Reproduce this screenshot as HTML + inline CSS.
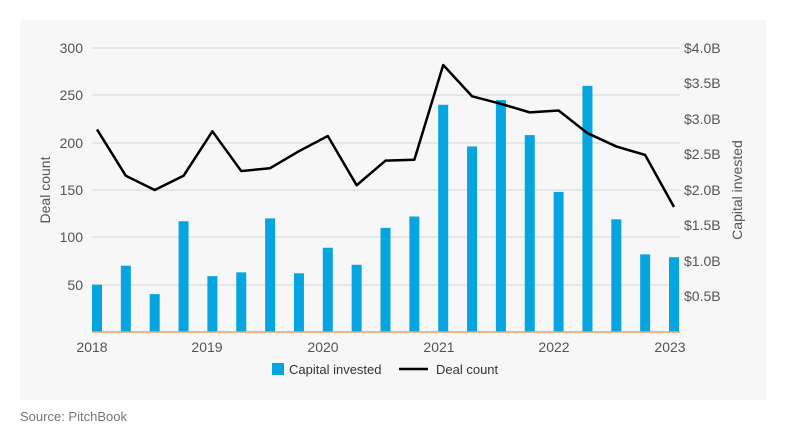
<!DOCTYPE html>
<html><head><style>
body{margin:0;background:#fff;width:786px;height:440px;overflow:hidden}
svg{display:block;font-family:"Liberation Sans",sans-serif}
</style></head><body>
<svg width="786" height="440" xmlns="http://www.w3.org/2000/svg">
<rect x="20" y="20" width="746" height="380" fill="#f7f7f7"/>
<g stroke="#e0e0e0" stroke-width="1.5">
<line x1="92" x2="680" y1="48" y2="48"/><line x1="92" x2="680" y1="95" y2="95"/>
<line x1="92" x2="680" y1="143" y2="143"/><line x1="92" x2="680" y1="190" y2="190"/>
<line x1="92" x2="680" y1="237" y2="237"/><line x1="92" x2="680" y1="285" y2="285"/>
</g>
<g fill="#555" font-size="14" text-anchor="end">
<text x="83" y="53">300</text><text x="83" y="100">250</text><text x="83" y="148">200</text>
<text x="83" y="195">150</text><text x="83" y="242">100</text><text x="83" y="290">50</text>
</g>
<g fill="#555" font-size="14" text-anchor="start">
<text x="684" y="53">$4.0B</text><text x="684" y="88">$3.5B</text><text x="684" y="124">$3.0B</text>
<text x="684" y="159">$2.5B</text><text x="684" y="195">$2.0B</text><text x="684" y="230">$1.5B</text>
<text x="684" y="266">$1.0B</text><text x="684" y="301">$0.5B</text>
</g>
<g fill="#555" font-size="14" text-anchor="middle">
<text x="92" y="352">2018</text><text x="207" y="352">2019</text><text x="323" y="352">2020</text>
<text x="439" y="352">2021</text><text x="554" y="352">2022</text><text x="670" y="352">2023</text>
<text transform="translate(50,190) rotate(-90)">Deal count</text>
<text transform="translate(742,190) rotate(-90)">Capital invested</text>
</g>
<g id="bars" fill="#05a6df"></g>
<line x1="92" x2="680" y1="332" y2="332" stroke="#f0a060" stroke-width="1.5"/>
<polyline id="ln" fill="none" stroke="#000" stroke-width="2.5" stroke-linejoin="round"/>
<rect x="272" y="363" width="12" height="12" fill="#05a6df"/>
<text x="289" y="374" font-size="13" fill="#333">Capital invested</text>
<line x1="399" x2="428" y1="369" y2="369" stroke="#000" stroke-width="2.5"/>
<text x="436" y="374" font-size="13" fill="#333">Deal count</text>
<text x="20" y="421" font-size="13" fill="#777">Source: PitchBook</text>
<script>
var b=[50,70,40,117,59,63,120,62,89,71,110,122,240,196,245,208,148,260,119,82,79];
var l=[214,165,150,165,212,170,173,191,207,155,181,182,282,249,241,232,234,210,196,187,132];
var g=document.getElementById('bars'),pts=[];
for(var i=0;i<21;i++){var cx=97+28.85*i,h=b[i]*0.9467;
var r=document.createElementNS('http://www.w3.org/2000/svg','rect');
r.setAttribute('x',cx-5);r.setAttribute('y',332-h);r.setAttribute('width',10);r.setAttribute('height',h);g.appendChild(r);
pts.push(cx+','+(332-l[i]*0.9467));}
document.getElementById('ln').setAttribute('points',pts.join(' '));
</script>
</svg>
</body></html>
